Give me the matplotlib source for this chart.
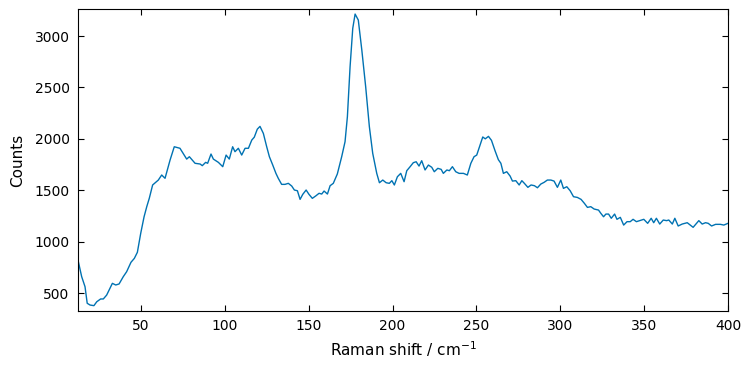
import matplotlib
matplotlib.use("Agg")
import matplotlib.pyplot as plt

# Raman spectrum
shift = [12.5, 14.7, 16.7, 18.0, 19.7, 22.0, 23.7, 26.0, 27.6, 29.6,
         33.0, 35.0, 37.0, 39.5, 41.5, 44.1, 46.1, 47.9, 49.9, 51.9,
         53.5, 55.0, 57.0, 60.4, 62.4, 64.4, 67.4, 69.9, 73.3, 77.3,
         78.9, 82.3, 85.3, 86.6, 88.6, 89.8, 91.8, 93.2, 96.2, 98.8,
         100.8, 102.7, 104.7, 106.1, 108.1, 110.1, 112.1, 114.1, 116.1, 117.6,
         119.4, 121.0, 123.0, 125.0, 126.6, 128.6, 130.5, 131.9, 133.9, 135.9,
         137.9, 139.9, 141.5, 143.3, 144.9, 146.5, 148.5, 150.2, 152.2, 154.2,
         156.2, 157.8, 159.2, 161.2, 162.8, 164.7, 167.1, 169.7, 171.7, 173.1,
         174.7, 176.3, 177.7, 179.6, 181.7, 184.0, 186.2, 188.2, 190.6, 192.2,
         194.2, 196.2, 198.1, 199.6, 201.1, 202.9, 204.9, 206.9, 208.5, 210.5,
         212.4, 214.1, 215.8, 217.4, 219.4, 221.4, 223.4, 224.9, 227.0, 229.0,
         230.3, 232.4, 233.9, 235.7, 237.7, 239.7, 242.3, 244.6, 246.7, 248.6,
         250.2, 252.2, 253.8, 255.3, 257.2, 259.0, 261.1, 263.1, 264.6, 266.1,
         268.1, 270.1, 271.5, 273.5, 275.5, 277.1, 278.6, 280.7, 282.6, 284.6,
         286.4, 288.4, 290.4, 292.3, 294.4, 296.3, 298.3, 300.3, 301.9, 303.9,
         305.9, 307.9, 310.2, 312.4, 314.4, 316.2, 318.2, 320.2, 322.8, 324.2,
         325.8, 327.2, 328.8, 330.4, 332.4, 333.8, 335.8, 337.8, 339.8, 341.7,
         343.4, 345.4, 347.4, 349.8, 352.1, 354.2, 355.7, 357.3, 359.3, 361.4,
         363.4, 364.7, 366.8, 368.3, 370.3, 372.7, 375.7, 379.2, 382.6, 384.6,
         386.6, 388.2, 390.2, 392.6, 395.5, 397.5, 400.0]
counts = [821, 659, 561, 400, 383, 377, 415, 442, 442, 480,
          594, 578, 588, 659, 707, 799, 837, 896, 1081, 1242,
          1340, 1421, 1551, 1599, 1648, 1616, 1794, 1923, 1908, 1803,
          1826, 1762, 1755, 1739, 1771, 1762, 1852, 1803, 1771, 1729,
          1842, 1803, 1923, 1875, 1908, 1842, 1908, 1908, 1988, 2016,
          2094, 2121, 2053, 1923, 1826, 1745, 1664, 1616, 1557, 1557,
          1567, 1541, 1502, 1495, 1411, 1460, 1502, 1460, 1421, 1444,
          1470, 1463, 1492, 1463, 1544, 1567, 1658, 1826, 1972, 2215,
          2701, 3075, 3214, 3156, 2864, 2507, 2118, 1859, 1664, 1573,
          1599, 1573, 1567, 1593, 1551, 1631, 1664, 1583, 1690, 1729,
          1768, 1777, 1735, 1787, 1697, 1745, 1723, 1680, 1713, 1703,
          1664, 1697, 1690, 1729, 1680, 1664, 1664, 1648, 1762, 1826,
          1842, 1940, 2018, 2000, 2024, 1985, 1885, 1797, 1762, 1664,
          1680, 1638, 1589, 1593, 1551, 1593, 1567, 1528, 1551, 1544,
          1524, 1560, 1577, 1599, 1599, 1589, 1528, 1599, 1518, 1534,
          1495, 1437, 1430, 1411, 1372, 1333, 1340, 1317, 1307, 1275,
          1242, 1268, 1268, 1227, 1268, 1217, 1236, 1161, 1194, 1194,
          1217, 1194, 1204, 1217, 1178, 1227, 1184, 1227, 1171, 1210,
          1204, 1210, 1171, 1227, 1152, 1171, 1184, 1139, 1204, 1171,
          1184, 1178, 1152, 1168, 1168, 1161, 1178]

plt.rcParams['xtick.direction'] = 'in'
plt.rcParams['ytick.direction'] = 'in'
plt.rcParams['xtick.top'] = True
plt.rcParams['ytick.right'] = True
plt.rcParams['xtick.major.size'] = 4
plt.rcParams['ytick.major.size'] = 4

fig = plt.figure(figsize=(7.52, 3.68), dpi=100)
ax = fig.add_axes([0.1037, 0.1549, 0.8644, 0.8206])
ax.plot(shift, counts, color='#0072B2', linewidth=1.0)
ax.set_xlim(12.5, 400)
ax.set_ylim(325, 3263)
ax.set_xticks([50, 100, 150, 200, 250, 300, 350, 400])
ax.set_yticks([500, 1000, 1500, 2000, 2500, 3000])
ax.tick_params(labelsize=10, pad=6)
ax.set_xlabel('Raman shift / cm$^{-1}$', fontsize=11)
ax.set_ylabel('Counts', fontsize=11, labelpad=7)
fig.savefig('out.png', dpi=100)
